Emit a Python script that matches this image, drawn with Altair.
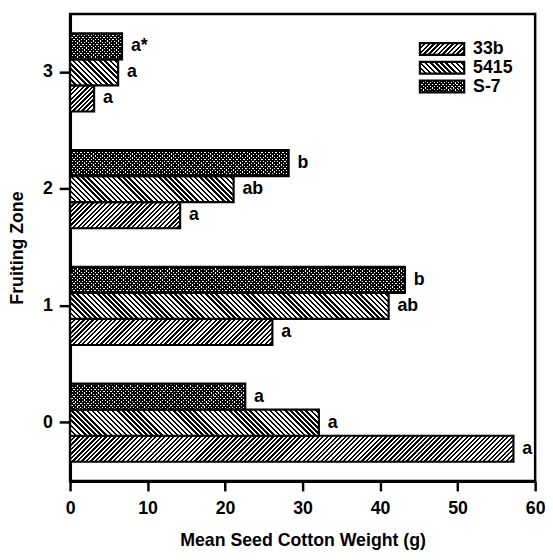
import altair as alt
import pandas as pd

# ---------------- data ----------------
zones = ["0", "1", "2", "3"]
varieties = ["33b", "5415", "S-7"]
weight_33b = [57.2, 26.1, 14.2, 3.1]
weight_5415 = [32.1, 41.1, 21.1, 6.2]
weight_s7 = [22.6, 43.2, 28.2, 6.7]
letters_33b = ["a", "a", "a", "a"]
letters_5415 = ["a", "ab", "ab", "a"]
letters_s7 = ["a", "b", "b", "a*"]
x_ticks = [0, 10, 20, 30, 40, 50, 60]

rows = []
for v, vals, lets in zip(varieties, [weight_33b, weight_5415, weight_s7],
                         [letters_33b, letters_5415, letters_s7]):
    for z, w, l in zip(zones, vals, lets):
        rows.append({"zone": z, "variety": v, "weight": w, "letter": l})
df = pd.DataFrame(rows)
legend_df = pd.DataFrame({"variety": varieties})

# ---------------- layout / style ----------------
PLOT_W, PLOT_H = 472, 474
X_MAX = 60
OFF_PAD = 0.74
BAR_H = (PLOT_H / 4) / (3 + 2 * OFF_PAD)
FONT = "Liberation Sans"
DARK = "#000000"


def hatch(w, h, kind, period=5.0, frac=0.42, dark=DARK, light="#ffffff"):
    """Linear-gradient stripes at 45 degrees inside a w x h pixel box."""
    c = (w + h) / (w * w + h * h)
    a, b = c * w, c * h
    if kind == "fwd":      # '/'
        x1, y1, x2, y2 = 0, 0, a, b
    else:                  # '\'
        x1, y1, x2, y2 = 0, 1, a, 1 - b
    n = max(int(round((w + h) / period)), 1)
    stops = []
    for k in range(n):
        t0 = k / n
        tm = (k + frac) / n
        t1 = (k + 1) / n
        stops += [
            {"offset": round(t0, 6), "color": dark},
            {"offset": round(tm, 6), "color": dark},
            {"offset": round(tm, 6), "color": light},
            {"offset": round(t1, 6), "color": light},
        ]
    return {"gradient": "linear", "x1": round(x1, 6), "y1": round(y1, 6),
            "x2": round(x2, 6), "y2": round(y2, 6), "stops": stops}


def fills_for(variety, w, h):
    """Fill layers that make up the pattern of a series."""
    if variety == "33b":
        return [hatch(w, h, "fwd", period=4.6, frac=0.5)]
    if variety == "5415":
        return [hatch(w, h, "bwd", period=5.2, frac=0.48)]
    # S-7: dense dotted crosshatch
    return [hatch(w, h, "fwd", period=3.6, frac=0.56),
            hatch(w, h, "bwd", period=3.6, frac=0.56, light="rgba(255,255,255,0)")]


x_enc = alt.X(
    "weight:Q",
    scale=alt.Scale(domain=[0, X_MAX], nice=False, zero=True),
    axis=alt.Axis(title="Mean Seed Cotton Weight (g)", values=x_ticks, format="d",
                  tickSize=10, labelPadding=9, titlePadding=14, labelFlush=False),
)
y_enc = alt.Y(
    "zone:N",
    scale=alt.Scale(domain=zones[::-1], paddingInner=0, paddingOuter=0),
    axis=alt.Axis(title="Fruiting Zone", labelAngle=0, tickSize=11,
                  labelPadding=7, titlePadding=16),
)
yoff_enc = alt.YOffset(
    "variety:N",
    scale=alt.Scale(domain=varieties[::-1], paddingInner=0, paddingOuter=OFF_PAD),
)

base = alt.Chart(df)
layers = []
for v, vals in zip(varieties, [weight_33b, weight_5415, weight_s7]):
    for z, val in zip(zones, vals):
        w = val * PLOT_W / X_MAX
        fl = fills_for(v, w, BAR_H)
        for i, f in enumerate(fl):
            top = i == len(fl) - 1
            mk = dict(fill=f)
            if top:
                mk.update(stroke="black", strokeWidth=2.2)
            layers.append(
                base.transform_filter((alt.datum.zone == z) & (alt.datum.variety == v))
                .mark_bar(**mk)
                .encode(x=x_enc, y=y_enc, yOffset=yoff_enc)
            )

labels = base.mark_text(
    align="left", baseline="middle", dx=9, font=FONT, fontSize=18,
    fontWeight="bold", color="black"
).encode(x=x_enc, y=y_enc, yOffset=yoff_enc, text="letter:N")
layers.append(labels)

# ---------------- legend (top right, inside) ----------------
SW_X0, SW_X1 = 355, 400
ROW_Y = [29.5, 48.5, 67.5]
SW_H = 12
for v, ytop in zip(varieties, ROW_Y):
    fl = fills_for(v, SW_X1 - SW_X0, SW_H)
    for i, f in enumerate(fl):
        top = i == len(fl) - 1
        mk = dict(fill=f)
        if top:
            mk.update(stroke="black", strokeWidth=2.2)
        layers.append(
            alt.Chart(legend_df).transform_filter(alt.datum.variety == v)
            .mark_rect(**mk)
            .encode(x=alt.value(SW_X0), x2=alt.value(SW_X1),
                    y=alt.value(ytop), y2=alt.value(ytop + SW_H))
        )
    layers.append(
        alt.Chart(legend_df).transform_filter(alt.datum.variety == v)
        .mark_text(align="left", baseline="middle", font=FONT, fontSize=18,
                   fontWeight="bold", color="black")
        .encode(x=alt.value(409), y=alt.value(ytop + SW_H / 2 + 0.5), text="variety:N")
    )

chart = (
    alt.layer(*layers)
    .properties(
        width=PLOT_W, height=PLOT_H,
        autosize=alt.AutoSizeParams(type="none"),
        padding={"left": 63, "top": 2, "right": 10, "bottom": 76},
    )
    .configure_view(stroke="black", strokeWidth=2.5)
    .configure_axis(
        grid=False, domainColor="black", domainWidth=3, tickColor="black",
        tickWidth=2.5, labelFont=FONT, labelFontSize=18, labelFontWeight="bold",
        labelColor="black", titleFont=FONT, titleFontSize=18,
        titleFontWeight="bold", titleColor="black",
    )
)

chart.save("out.html", embed_options={"renderer": "svg", "actions": False})
